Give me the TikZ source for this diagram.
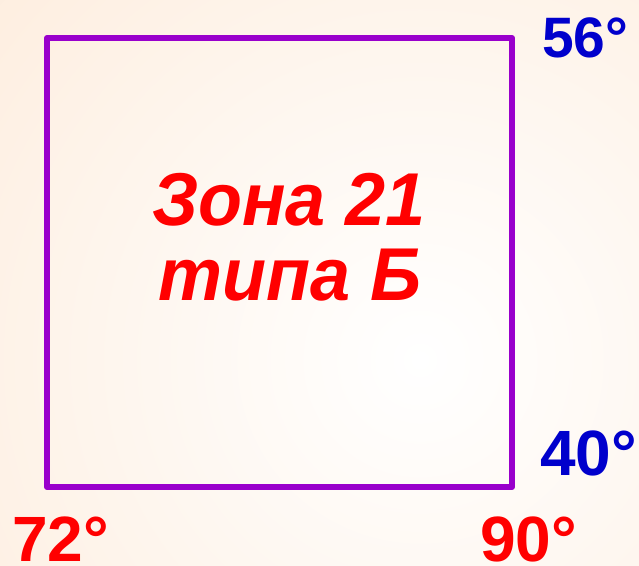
\documentclass[tikz,border=0pt]{standalone}
\usepackage{fontspec}
\setmainfont{Liberation Sans}
\definecolor{peach}{RGB}{252,222,194}
\definecolor{zonepurple}{RGB}{153,0,204}
\definecolor{degblue}{RGB}{0,0,204}
\definecolor{degred}{RGB}{255,0,0}
\tikzset{
  frame/.style={draw=zonepurple, line width=6pt, line join=round},
  bluelabel/.style={text=degblue, font=\bfseries\fontsize{57}{60}\selectfont, inner sep=0pt},
  bigbluelabel/.style={text=degblue, font=\bfseries\fontsize{64}{66}\selectfont, inner sep=0pt},
  redlabel/.style={text=degred, font=\bfseries\fontsize{64}{66}\selectfont, inner sep=0pt},
  title/.style={text=degred, font=\bfseries\itshape\fontsize{72}{75}\selectfont, inner sep=0pt}
}
\begin{document}
\begin{tikzpicture}[x=1pt,y=-1pt]
\useasboundingbox (0,0) rectangle (639,565);
\begin{scope}
\clip (0,0) rectangle (639,565);
\shade[inner color=white, outer color=peach] (420-1100,360-1100) rectangle (420+1100,360+1100);
\end{scope}
\node[frame, minimum width=465pt, minimum height=449pt, inner sep=0pt] (zone) at (279.5,262.5) {};
\node[title, anchor=base] (t1) at (289,225) {\scalebox{1}[1.04]{Зона 21}};
\node[title, anchor=base] (t2) at (290,300) {\scalebox{1}[1.04]{типа Б}};
\node[bluelabel, anchor=base west] (l56) at (542,57) {56°};
\node[bigbluelabel, anchor=base west] (l40) at (540,475) {40°};
\node[redlabel, anchor=base west] (l72) at (12,561) {72°};
\node[redlabel, anchor=base west] (l90) at (480,561) {90°};
\end{tikzpicture}
\end{document}
